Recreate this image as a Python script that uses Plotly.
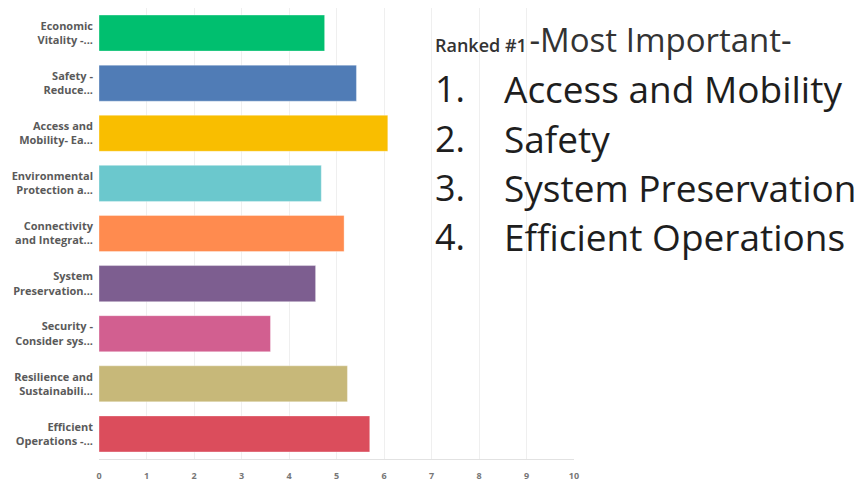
import plotly.graph_objects as go

categories = [
    "Economic<br>Vitality -...",
    "Safety -<br>Reduce...",
    "Access and<br>Mobility- Ea...",
    "Environmental<br>Protection a...",
    "Connectivity<br>and Integrat...",
    "System<br>Preservation...",
    "Security -<br>Consider sys...",
    "Resilience and<br>Sustainabili...",
    "Efficient<br>Operations -...",
]
values = [4.75, 5.42, 6.08, 4.68, 5.16, 4.56, 3.61, 5.23, 5.70]
colors = ["#00BF6F", "#507CB6", "#F9BE00", "#6BC8CD", "#FF8B4F",
          "#7D5E90", "#D25F90", "#C7B879", "#DB4D5C"]
x_ticks = list(range(0, 11))

heading_small = "Ranked #1"
heading_big = "-Most Important-"
ranked_items = ["Access and Mobility", "Safety", "System Preservation", "Efficient Operations"]

# page body adds an 8px offset; figure sized to fit the window
W, H = 854, 477
L, R, T, B = 91, 288, 0, 26
pw, ph = W - L - R, H - T - B

def px(x):
    return (x - L) / pw

def py(y):
    return 1 - (y - T) / ph

fig = go.Figure(go.Bar(
    x=values, y=categories, orientation="h",
    marker=dict(color=colors, line=dict(color="rgba(255,255,255,0.35)", width=1)),
    width=0.72,
))

fig.update_layout(
    width=W, height=H,
    margin=dict(l=L, r=R, t=T, b=B),
    paper_bgcolor="white", plot_bgcolor="white",
    showlegend=False,
    bargap=0.28,
    font=dict(family="Open Sans", color="#555"),
)
fig.update_xaxes(
    range=[0, 10], tickvals=x_ticks, ticktext=[str(v) for v in x_ticks],
    showgrid=True, gridcolor="#efefef", gridwidth=1,
    zeroline=False, showline=True, linecolor="#e2e2e2",
    tickfont=dict(size=9, color="#777", weight="bold"), ticks="", ticklabelstandoff=8,
    automargin=False,
)
fig.update_yaxes(
    categoryorder="array", categoryarray=categories, autorange="reversed",
    showgrid=False, zeroline=False, showline=False,
    tickfont=dict(size=11, color="#5a5a5a", family="Open Sans", weight="bold"),
    ticks="", ticklabelstandoff=5, automargin=False,
)

TXT = "#1e1e1e"
annotations = [
    dict(x=px(425), y=py(32), xref="paper", yref="paper", xanchor="left", yanchor="middle",
         showarrow=False,
         text=f"<span style='font-size:18px;font-weight:600'>{heading_small}</span>"
              f"<span style='font-size:10px'> </span><span style='font-size:33px'>{heading_big}</span>",
         font=dict(family="Open Sans", color="#333", size=33)),
]
for i, item in enumerate(ranked_items):
    yc = 81 + i * 49.3
    annotations.append(dict(x=px(425), y=py(yc), xref="paper", yref="paper",
                            xanchor="left", yanchor="middle", showarrow=False,
                            text=f"{i + 1}.", font=dict(family="Open Sans", color=TXT, size=36)))
    annotations.append(dict(x=px(494), y=py(yc), xref="paper", yref="paper",
                            xanchor="left", yanchor="middle", showarrow=False,
                            text=item, font=dict(family="Open Sans", color=TXT, size=37)))
fig.update_layout(annotations=annotations)

fig.write_html("out.html")
